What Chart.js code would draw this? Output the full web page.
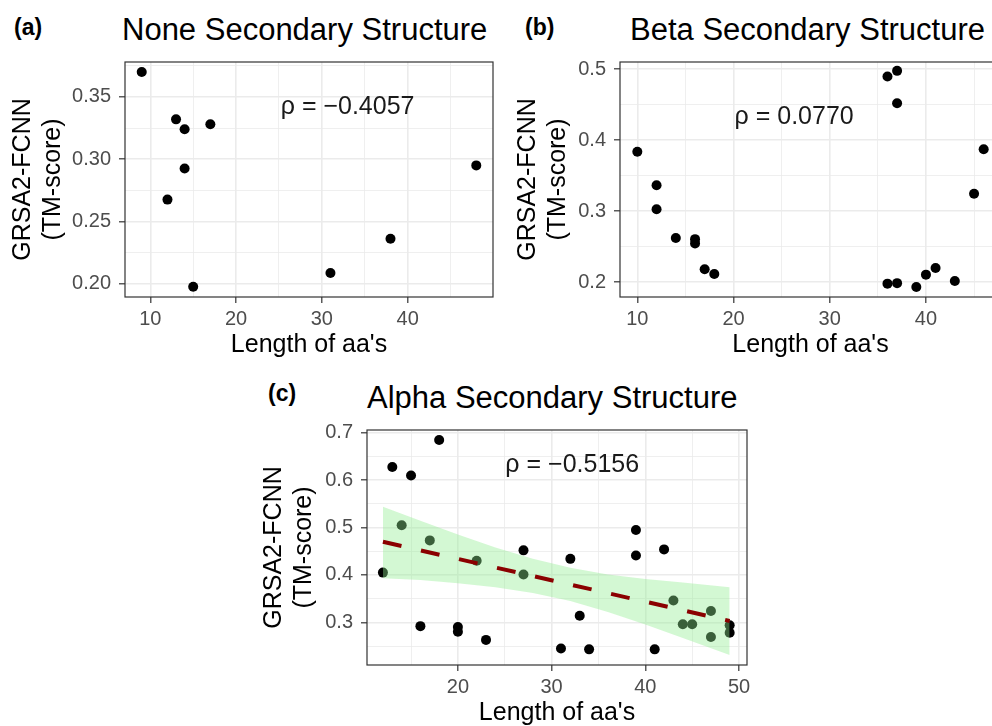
<!DOCTYPE html>
<html>
<head>
<meta charset="utf-8">
<title>TM-score vs length by secondary structure</title>
<script src="https://cdn.jsdelivr.net/npm/chart.js@4.4.0/dist/chart.umd.min.js"></script>
<style>
  html, body { margin: 0; padding: 0; background: #fff; overflow: hidden; }
  body { width: 992px; height: 726px; position: relative; font-family: "Liberation Sans", Arial, sans-serif; }
  canvas { position: absolute; }
  .tag, .ttl { position: absolute; line-height: 1; white-space: nowrap; color: #000; }
  .tag { font-weight: bold; font-size: 23px; }
  .ttl { font-size: 31px; }
</style>
</head>
<body>
<div class="tag" style="left:14px;top:16px">(a)</div>
<div class="ttl" style="left:122px;top:14px">None Secondary Structure</div>
<canvas id="noneChart" width="500" height="328" style="left:0px;top:42px"></canvas>

<div class="tag" style="left:525px;top:16px">(b)</div>
<div class="ttl" style="left:630px;top:14px">Beta Secondary Structure</div>
<canvas id="betaChart" width="510" height="328" style="left:500px;top:42px"></canvas>

<div class="tag" style="left:268px;top:382px">(c)</div>
<div class="ttl" style="left:367px;top:382px">Alpha Secondary Structure</div>
<canvas id="alphaChart" width="510" height="328" style="left:250px;top:410px"></canvas>

<script>
var FONT = '"Liberation Sans", Arial, sans-serif';

// none secondary structure
var noneLength = [9, 12, 13, 14, 14, 15, 17, 31, 38, 48];
var noneScore = [0.370, 0.2675, 0.332, 0.324, 0.2925, 0.1975, 0.328, 0.2085, 0.236, 0.295];
var noneXTicks = [10, 20, 30, 40];
var noneXMinor = [15, 25, 35, 45];
var noneYTicks = [0.20, 0.25, 0.30, 0.35];
var noneYMinor = [0.225, 0.275, 0.325, 0.375];
var noneRho = 'ρ = −0.4057';
var noneRhoAt = [33, 0.3415];

// beta secondary structure
var betaLength = [10, 12, 12, 14, 16, 16, 17, 18, 36, 37, 37, 36, 37, 39, 40, 41, 43, 45, 46];
var betaScore = [0.3835, 0.3365, 0.3025, 0.262, 0.2605, 0.2545, 0.218, 0.2115, 0.4895, 0.4975, 0.452,
                 0.1978, 0.1985, 0.193, 0.2105, 0.2198, 0.2015, 0.3245, 0.387];
var betaXTicks = [10, 20, 30, 40];
var betaXMinor = [15, 25, 35, 45];
var betaYTicks = [0.2, 0.3, 0.4, 0.5];
var betaYMinor = [0.25, 0.35, 0.45];
var betaRho = 'ρ = 0.0770';
var betaRhoAt = [26.3, 0.433];

// alpha secondary structure
var alphaLength = [12, 13, 14, 15, 16, 17, 18, 20, 20, 22, 23, 27, 27, 31, 32, 33, 34,
                   39, 39, 41, 42, 43, 44, 45, 47, 47, 49, 49];
var alphaScore = [0.405, 0.628, 0.505, 0.610, 0.292, 0.473, 0.685, 0.290, 0.280, 0.430, 0.263, 0.452, 0.401,
                  0.245, 0.434, 0.314, 0.243, 0.495, 0.441, 0.243, 0.454, 0.346, 0.296, 0.296, 0.324, 0.269,
                  0.294, 0.278];
var alphaXTicks = [20, 30, 40, 50];
var alphaXMinor = [15, 25, 35, 45];
var alphaYTicks = [0.3, 0.4, 0.5, 0.6, 0.7];
var alphaYMinor = [0.25, 0.35, 0.45, 0.55, 0.65];
var alphaRho = 'ρ = −0.5156';
var alphaRhoAt = [32.2, 0.631];
// linear fit and its confidence band
var fitLength = [12, 49];
var fitScore = [0.470, 0.303];
var bandLength = [12, 16, 20, 24, 28, 32, 36, 40, 44, 49];
var bandHigh = [0.544, 0.5145, 0.4855, 0.458, 0.434, 0.415, 0.401, 0.3915, 0.384, 0.374];
var bandLow = [0.393, 0.3895, 0.3825, 0.374, 0.362, 0.345, 0.322, 0.2955, 0.267, 0.231];

function pairs(xs, ys) {
  return xs.map(function (x, i) { return { x: x, y: ys[i] }; });
}

// frame round the panel plus the correlation note
var panelFrame = {
  id: 'panelFrame',
  afterDatasetsDraw: function (chart, args, opts) {
    var ctx = chart.ctx, a = chart.chartArea;
    ctx.save();
    ctx.font = '25px ' + FONT;
    ctx.fillStyle = '#1a1a1a';
    ctx.textAlign = 'center';
    ctx.textBaseline = 'middle';
    ctx.fillText(opts.note, chart.scales.x.getPixelForValue(opts.at[0]), chart.scales.y.getPixelForValue(opts.at[1]));
    ctx.strokeStyle = '#333333';
    ctx.lineWidth = 1.2;
    ctx.strokeRect(a.left, a.top, a.right - a.left, a.bottom - a.top);
    ctx.restore();
  }
};

function makeAxis(isX, min, max, major, minor, digits, title, size, titlePad, labelPad) {
  function isMajor(c) { return c.tick && major.indexOf(c.tick.value) >= 0; }
  return {
    type: 'linear',
    min: min,
    max: max,
    afterBuildTicks: function (s) {
      s.ticks = major.concat(minor).sort(function (a, b) { return a - b; })
        .map(function (v) { return { value: v }; });
    },
    afterFit: function (s) {
      if (isX) s.height = size; else s.width = size;
    },
    ticks: {
      autoSkip: false,
      maxRotation: 0,
      color: '#4D4D4D',
      padding: labelPad,
      font: { size: 20, family: FONT },
      callback: function (v) { return major.indexOf(v) >= 0 ? v.toFixed(digits) : ''; }
    },
    grid: {
      color: '#EBEBEB',
      lineWidth: function (c) { return isMajor(c) ? 1.6 : 0.8; },
      tickColor: function (c) { return isMajor(c) ? '#333333' : 'rgba(0,0,0,0)'; },
      tickLength: 6,
      tickWidth: 1.2
    },
    border: { display: false },
    title: {
      display: true,
      text: title,
      color: '#000',
      font: { size: 25, family: FONT, lineHeight: 1.2 },
      padding: { top: titlePad, bottom: titlePad }
    }
  };
}

function makePanel(id, p) {
  var datasets = [];
  if (p.fit) {
    datasets.push({
      type: 'line', data: pairs(fitLength, fitScore),
      borderColor: '#8B0000', borderWidth: 4, borderDash: [19, 20],
      pointRadius: 0, fill: false
    });
    datasets.push({
      type: 'line', data: pairs(bandLength, bandHigh),
      borderColor: 'rgba(0,0,0,0)', pointRadius: 0,
      backgroundColor: 'rgba(144,238,144,0.4)', fill: '+1'
    });
    datasets.push({
      type: 'line', data: pairs(bandLength, bandLow),
      borderColor: 'rgba(0,0,0,0)', pointRadius: 0, fill: false
    });
  }
  datasets.push({
    data: pairs(p.xs, p.ys),
    pointRadius: 5,
    pointBackgroundColor: '#000',
    pointBorderWidth: 0,
    showLine: false
  });

  new Chart(document.getElementById(id), {
    type: 'scatter',
    data: { datasets: datasets },
    options: {
      responsive: false,
      animation: false,
      devicePixelRatio: 1,
      layout: { padding: p.padding },
      plugins: {
        legend: { display: false },
        tooltip: { enabled: false },
        panelFrame: { note: p.note, at: p.noteAt }
      },
      scales: {
        x: makeAxis(true, p.xMin, p.xMax, p.xTicks, p.xMinor, 0, "Length of aa's", 73, 10, 4),
        y: makeAxis(false, p.yMin, p.yMax, p.yTicks, p.yMinor, p.digits,
                    ['GRSA2-FCNN', '(TM-score)'], p.yWidth, p.yTitlePad, 8)
      }
    },
    plugins: [panelFrame]
  });
}

makePanel('noneChart', {
  xs: noneLength, ys: noneScore,
  xMin: 7.05, xMax: 49.95, xTicks: noneXTicks, xMinor: noneXMinor,
  yMin: 0.1892, yMax: 0.3781, yTicks: noneYTicks, yMinor: noneYMinor, digits: 2,
  note: noneRho, noteAt: noneRhoAt,
  padding: { top: 20, right: 7, bottom: 0, left: 0 }, yWidth: 125, yTitlePad: 8
});

makePanel('betaChart', {
  xs: betaLength, ys: betaScore,
  xMin: 8.2, xMax: 47.8, xTicks: betaXTicks, xMinor: betaXMinor,
  yMin: 0.179, yMax: 0.510, yTicks: betaYTicks, yMinor: betaYMinor, digits: 1,
  note: betaRho, noteAt: betaRhoAt,
  padding: { top: 20, right: 9, bottom: 0, left: 0 }, yWidth: 120, yTitlePad: 13
});

makePanel('alphaChart', {
  xs: alphaLength, ys: alphaScore, fit: true,
  xMin: 10.3, xMax: 50.85, xTicks: alphaXTicks, xMinor: alphaXMinor,
  yMin: 0.21, yMax: 0.706, yTicks: alphaYTicks, yMinor: alphaYMinor, digits: 1,
  note: alphaRho, noteAt: alphaRhoAt,
  padding: { top: 20, right: 13, bottom: 0, left: 0 }, yWidth: 117, yTitlePad: 9
});
</script>
</body>
</html>
